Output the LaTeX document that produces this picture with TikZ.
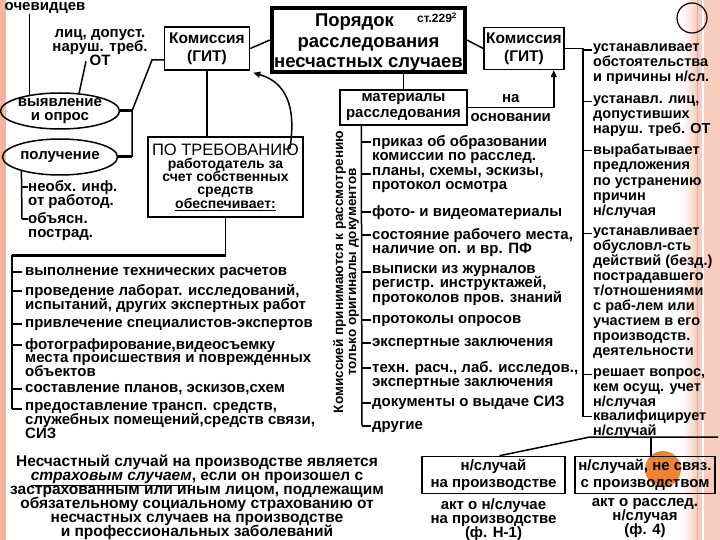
\documentclass[tikz,border=0pt]{standalone}
\usepackage{fontspec}
\setmainfont{Liberation Sans}
\usetikzlibrary{shapes.geometric,arrows.meta}

\definecolor{stripe}{HTML}{F5B49C}
\definecolor{band}{HTML}{F8CDBD}
\definecolor{bandline}{HTML}{EFA58C}
\definecolor{dot}{HTML}{EE8433}
\newcommand\tightskip{\lineskiplimit -50pt\relax}
\newcommand\fixlines{\tightskip\strut}

\begin{document}
\begin{tikzpicture}[x=1pt,y=-1pt,
    every node/.style={inner sep=0pt, execute at begin node=\tightskip},
    txt/.style={font=\bfseries\fontsize{15}{15}\selectfont},
    item/.style={txt, align=left, anchor=north west, execute at begin node=\fixlines},
    box/.style={draw, line width=1.5pt, align=center, txt},
    oval/.style={draw, ellipse, line width=1.5pt, minimum width=115pt, minimum height=36pt,
        align=center, font=\bfseries\fontsize{15}{14}\selectfont},
    link/.style={line width=1.5pt},
    stub/.style={line width=3pt},
    arr/.style={-{Triangle[length=7pt,width=6pt]}}]
    \useasboundingbox (0,0) rectangle (720,540);

    % slide decoration
    \fill[stripe] (0,0) rectangle (6,540);
    \shade[left color=white, right color=band] (682,0) rectangle (697,540);
    \fill[band] (697,0) rectangle (720,540);
    \draw[bandline, line width=1pt] (697,0) -- (697,540);
    \draw[white, line width=1.5pt] (703,0) -- (703,540);
    \draw[line width=1.2pt] (692,18) circle (15);
    \fill[dot] (663,469) circle (18);

    % left part
    \node[txt] (ochev) at (45,8) {очевидцев};
    \node[txt, align=center, font=\bfseries\fontsize{15}{14}\selectfont] (lic) at (100,48) {лиц, допуст.\\наруш. треб.\\ОТ};
    \node[oval] (vyyav) at (60,111) {выявление\\и опрос};
    \node[oval] (polu) at (60,157) {получение};
    \node[box, minimum width=85pt, minimum height=43pt, font=\bfseries\fontsize{15.5}{18}\selectfont] (kom1) at (207,48.5) {Комиссия\\(ГИТ)};
    \node[box, minimum width=155pt, minimum height=80pt, font=\bfseries\fontsize{14}{13.3}\selectfont] (ptreb) at (225.5,177)
        {{\mdseries\fontsize{16.5}{14}\selectfont ПО ТРЕБОВАНИЮ}\\работодатель за\\счет собственных\\средств\\\underline{обеспечивает:}};

    \draw[link] (vyyav.152) -- (vyyav.152 |- ochev.south);
    \draw[link] ([xshift=-14pt,yshift=5pt]lic.south) -- (vyyav.43);
    \coordinate (jl) at (132,111);
    \coordinate (kn) at (152,60);
    \draw[stub] (vyyav.east) -- (jl);
    \draw[stub] (polu.east) -- (polu.east -| jl);
    \draw[link] (polu.east -| jl) -- (jl) -- (kn) -- (kn -| kom1.west);
    \draw[link] (kom1.south) -- (kom1.south |- ptreb.north);
    \draw[link, arr] ([xshift=-14pt,yshift=-13pt]ptreb.north east) .. controls (297,105) and (285,82) .. ([xshift=3pt,yshift=-2pt]kom1.south east);

    \foreach \y/\lbl [count=\i] in {185/{необх. инф.\\от работод.}, 217/{объясн.\\пострад.}} {
        \node[item, font=\bfseries\fontsize{15}{14}\selectfont] (p\i) at (28,\y-5) {\lbl};
        \coordinate (pt\i) at ([xshift=-6pt,yshift=-7pt]p\i.north west);
        \draw[link] (pt\i) -- ([yshift=-7pt]p\i.north west);
    }
    \draw[link] (polu.200) -- (pt2);

    \coordinate (lsp) at (12,255);
    \draw[link] (ptreb.south) -- (ptreb.south |- lsp);
    \draw[stub] (ptreb.south |- lsp) -- (lsp);
    \foreach \y/\lbl [count=\i] in {270/{выполнение технических расчетов},
        289/{проведение лаборат. исследований,\\испытаний, других экспертных работ},
        322/{привлечение специалистов-экспертов},
        343/{фотографирование,видеосъемку\\[-1pt]места происшествия и поврежденных\\[-1pt]объектов},
        387/{составление планов, эскизов,схем},
        407/{предоставление трансп. средств,\\служебных помещений,средств связи,\\[-1pt]СИЗ}} {
        \node[item, font=\bfseries\fontsize{15}{14.5}\selectfont] (l\i) at (25,\y-5) {\lbl};
        \coordinate (lt\i) at ([xshift=-13pt,yshift=-7pt]l\i.north west);
        \draw[link] (lt\i) -- ([xshift=-3pt,yshift=-7pt]l\i.north west);
    }
    \draw[link] (lsp) -- (lt6);

    % middle part
    \node[draw, line width=4pt, minimum width=193pt, minimum height=64pt] (por) at (368.5,40) {};
    \node[txt, align=center, font=\bfseries\fontsize{18.5}{20.5}\selectfont] (porT) at (368.5,43)
        {\hspace*{-28pt}Порядок\\расследования\\несчастных случаев};
    \node[txt, font=\bfseries\fontsize{12}{12}\selectfont] (st) at (437,18) {ст.229\textsuperscript{2}};
    \node[box, minimum width=80pt, minimum height=42pt, font=\bfseries\fontsize{15.5}{18}\selectfont] (kom2) at (524,48.5) {Комиссия\\(ГИТ)};
    \node[box, minimum width=127pt, minimum height=35pt, font=\bfseries\fontsize{15}{16}\selectfont] (mat) at (403.5,107.5) {материалы\\расследования};
    \node[txt, rotate=90, align=center, font=\bfseries\fontsize{13.5}{13}\selectfont] (orig) at (346,272)
        {Комиссией принимаются к рассмотрению\\только оригиналы документов};

    \draw[link] (kom1.east) -- (por.west);
    \draw[link] (por.east) -- (kom2.west);
    \draw[link] (mat.north) -- (mat.north |- por.south);
    \draw[link, arr] (mat.east) -| node[txt, pos=0.25, above=4pt] {на} node[txt, pos=0.25, below=5pt] {основании} ([xshift=-11pt]kom2.south east);

    \foreach \y/\lbl [count=\i] in {140/{приказ об образовании\\комиссии по расслед.},
        172/{планы, схемы, эскизы,\\протокол осмотра},
        210/{фото- и видеоматериалы},
        233/{состояние рабочего места,\\наличие оп. и вр. ПФ},
        270/{выписки из журналов\\регистр. инструктажей,\\протоколов пров. знаний},
        318/{протоколы опросов},
        341/{экспертные заключения},
        366/{техн. расч., лаб. исследов.,\\экспертные заключения},
        401/{документы о выдаче СИЗ},
        424/{другие}} {
        \node[item, font=\bfseries\fontsize{15}{14.5}\selectfont] (m\i) at (372,\y-5) {\lbl};
        \coordinate (mt\i) at ([xshift=-10pt,yshift=-7pt]m\i.north west);
        \draw[link] (mt\i) -- ([xshift=-1pt,yshift=-7pt]m\i.north west);
    }
    \draw[link] ([xshift=22pt]mat.south west) -- (mt10);

    % right part
    \foreach \y/\lbl [count=\i] in {48.5/{устанавливает\\обстоятельства\\и причины н/сл.},
        100/{устанавл. лиц,\\допустивших\\наруш. треб. ОТ},
        149/{вырабатывает\\предложения\\по устранению\\причин\\н/случая},
        232/{устанавливает\\обусловл-сть\\действий (безд.)\\пострадавшего\\т/отношениями\\с раб-лем или\\участием в его\\производств.\\деятельности},
        373/{решает вопрос,\\кем осущ. учет\\н/случая},
        415/{квалифицирует\\н/случай}} {
        \node[item, font=\bfseries\fontsize{14.5}{15.1}\selectfont] (r\i) at (593,\y-5) {\lbl};
        \coordinate (rt\i) at ([xshift=-10pt,yshift=-6.5pt]r\i.north west);
        \draw[link] (rt\i) -- ([xshift=-1pt,yshift=-6.5pt]r\i.north west);
    }
    \draw[link] (kom2.east) -- (kom2.east -| rt1) -- (rt6);

    % bottom part
    \node[txt, align=center, font=\bfseries\fontsize{15.5}{14}\selectfont] (strah) at (197,497.5)
        {Несчастный случай на производстве является\\\underline{\itshape страховым случаем}, если он произошел с\\застрахованным или иным лицом, подлежащим\\обязательному социальному страхованию от\\несчастных случаев на производстве\\и профессиональных заболеваний};
    \node[box, minimum width=143pt, minimum height=37pt, font=\bfseries\fontsize{15}{17}\selectfont] (nsl1) at (493.5,475) {н/случай\\на производстве};
    \node[box, minimum width=140pt, minimum height=37pt, font=\bfseries\fontsize{15}{17}\selectfont] (nsl2) at (645,475) {н/случай, не связ.\\с производством};
    \node[txt, align=center, anchor=north, font=\bfseries\fontsize{15}{14}\selectfont] (akt1) at (493.5,498) {акт о н/случае\\на производстве\\(ф. Н-1)};
    \node[txt, align=center, anchor=north, font=\bfseries\fontsize{15}{14}\selectfont] (akt2) at (645,498) {акт о расслед.\\н/случая\\(ф. 4)};

    \coordinate (bus) at (590,437);
    \coordinate (busE) at (718,437);
    \draw[link] ([xshift=6pt]nsl1.north) -- (bus) -- (busE);
    \draw[link] ([xshift=6pt]nsl2.north) -- ([xshift=6pt]nsl2.north |- bus);
\end{tikzpicture}
\end{document}
